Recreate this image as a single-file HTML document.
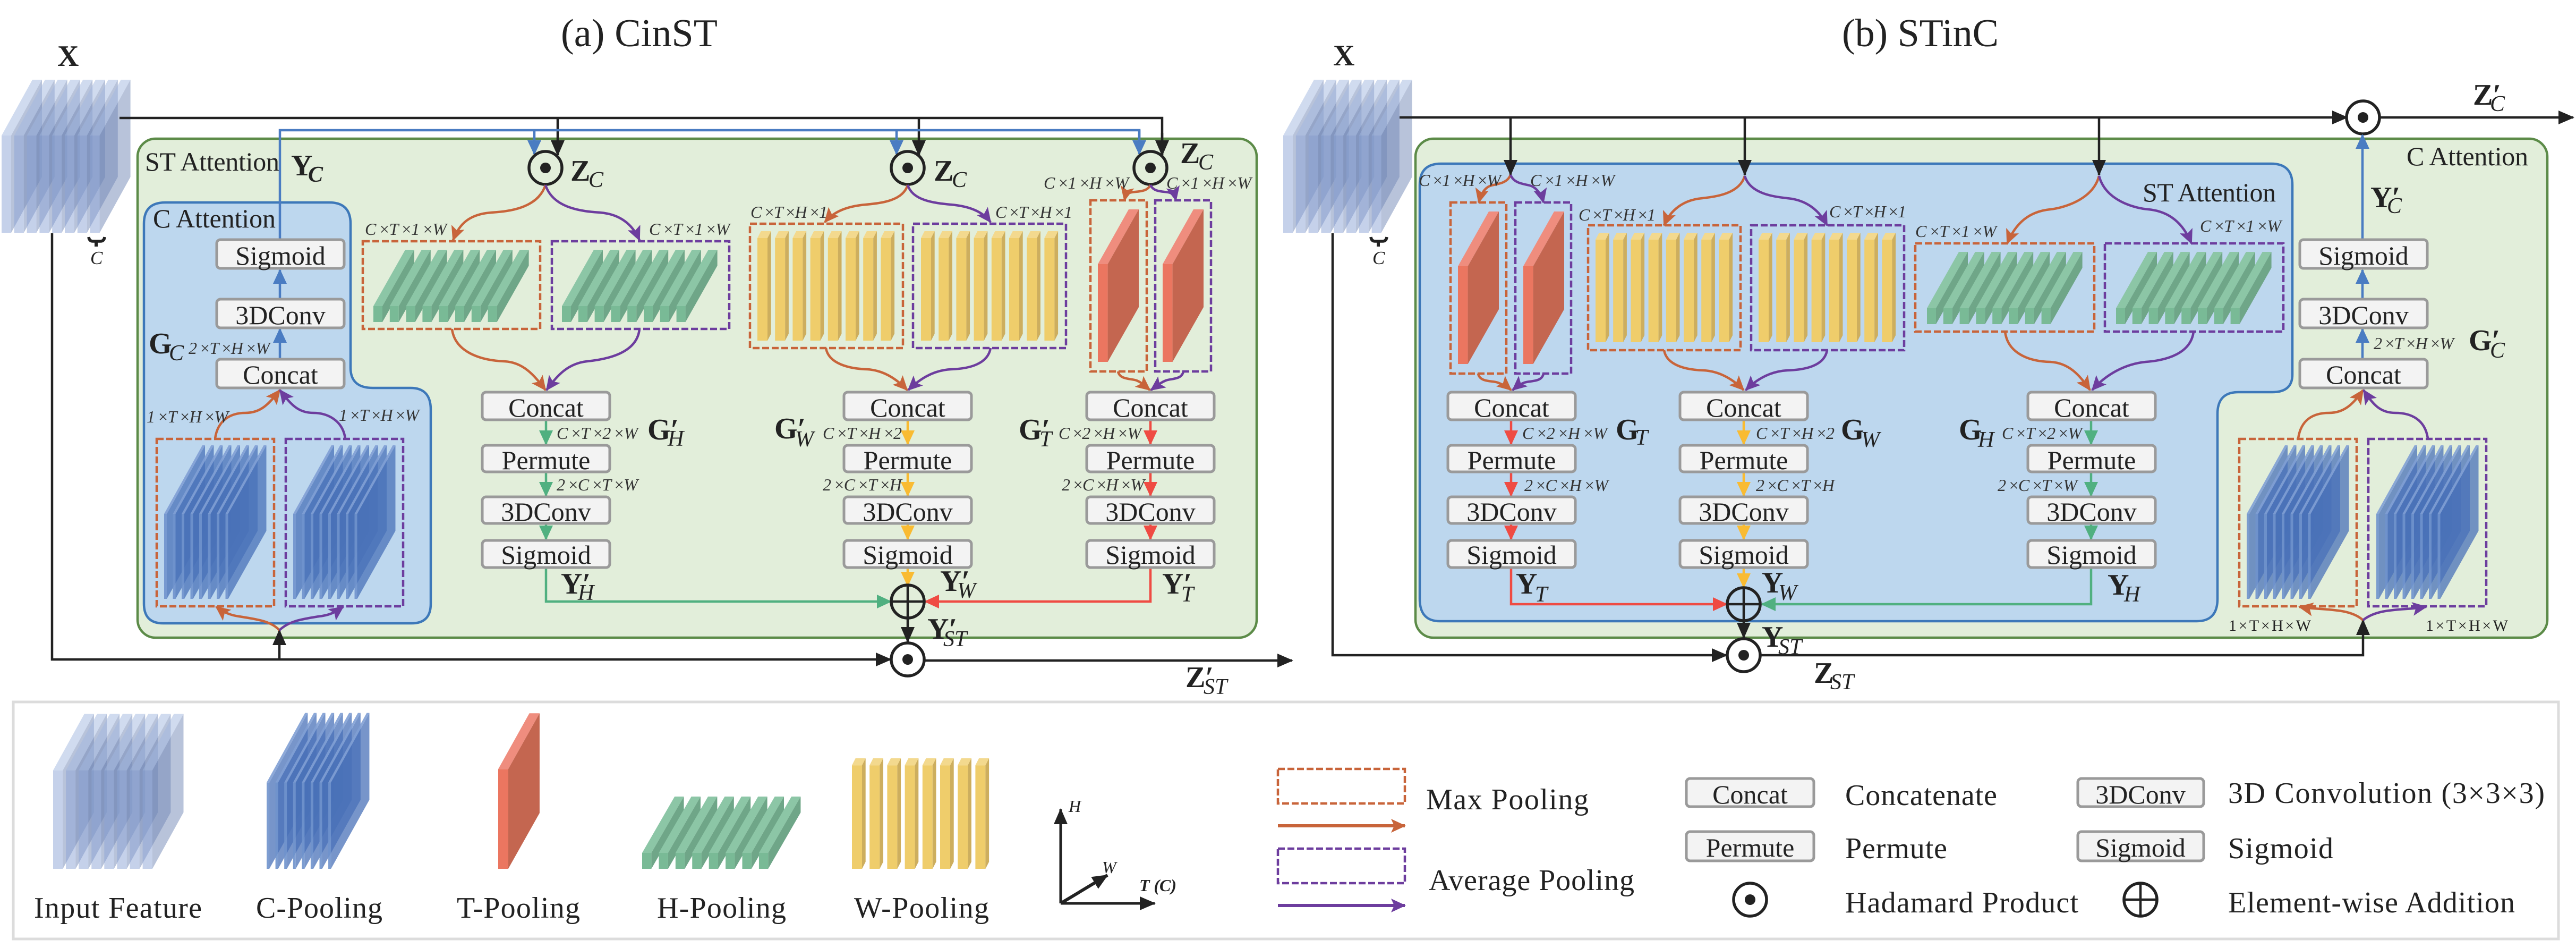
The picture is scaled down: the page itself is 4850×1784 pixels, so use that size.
<!DOCTYPE html>
<html lang="en">
<head>
<meta charset="utf-8">
<title>CinST and STinC attention diagrams</title>
<style>
html,body{margin:0;padding:0;background:#fff;width:4850px;height:1784px;overflow:hidden}
svg{display:block}
text{font-family:"Liberation Serif",serif;fill:#222}
.title{font-size:74px}
.b{font-size:56px;font-weight:700}
.s{font-size:42px;font-style:italic}
.sb{font-size:42px;font-style:italic;font-weight:700}
.dim{font-size:32px;font-style:italic;fill:#333}
.dimu{font-size:30px;fill:#222}
.att{font-size:50px}
.leg{font-size:56px}
.bx{fill:#f3f3f3;stroke:#9a9a9a;stroke-width:5}
.bt{font-size:50px;text-anchor:middle}
.line{fill:none;stroke-width:4.5}
.dash{fill:none;stroke-width:4.5;stroke-dasharray:13 5}
.or{stroke:#c8643a}.pu{stroke:#6d3d9e}.bl{stroke:#4a7cc2}.gr{stroke:#50b080}.ye{stroke:#f9bb32}.re{stroke:#ef4b43}.bk{stroke:#222}
.ci{stroke:#222;stroke-width:5.5}
</style>
</head>
<body>
<svg xmlns="http://www.w3.org/2000/svg" width="4850" height="1784" viewBox="0 0 4850 1784">
<defs>
<marker id="mo" markerUnits="userSpaceOnUse" markerWidth="30" markerHeight="30" refX="26" refY="14" orient="auto"><path d="M0 1L28 14L0 27L6 14Z" fill="#c8643a"/></marker>
<marker id="mp" markerUnits="userSpaceOnUse" markerWidth="30" markerHeight="30" refX="26" refY="14" orient="auto"><path d="M0 1L28 14L0 27L6 14Z" fill="#6d3d9e"/></marker>
<marker id="mb" markerUnits="userSpaceOnUse" markerWidth="30" markerHeight="30" refX="26" refY="14" orient="auto"><path d="M0 1L28 14L0 27Z" fill="#4a7cc2"/></marker>
<marker id="mg" markerUnits="userSpaceOnUse" markerWidth="30" markerHeight="30" refX="26" refY="14" orient="auto"><path d="M0 1L28 14L0 27Z" fill="#50b080"/></marker>
<marker id="my" markerUnits="userSpaceOnUse" markerWidth="30" markerHeight="30" refX="26" refY="14" orient="auto"><path d="M0 1L28 14L0 27Z" fill="#f9bb32"/></marker>
<marker id="mr" markerUnits="userSpaceOnUse" markerWidth="30" markerHeight="30" refX="26" refY="14" orient="auto"><path d="M0 1L28 14L0 27Z" fill="#ef4b43"/></marker>
<marker id="mk" markerUnits="userSpaceOnUse" markerWidth="32" markerHeight="30" refX="28" refY="14" orient="auto"><path d="M0 1L30 14L0 27Z" fill="#222"/></marker>

<g id="xslab">
<polygon points="0,0 18,0 18,-183 0,-183" fill="#8ba3d5" fill-opacity=".5"/>
<polygon points="0,-183 18,-183 76,-288 58,-288" fill="#a1b7df" fill-opacity=".5"/>
<polygon points="18,0 76,-105 76,-288 18,-183" fill="#7187b5" fill-opacity=".5"/>
</g>
<g id="xstack">
<use href="#xslab" x="0"/><use href="#xslab" x="23.8"/><use href="#xslab" x="47.6"/><use href="#xslab" x="71.4"/><use href="#xslab" x="95.2"/><use href="#xslab" x="119"/><use href="#xslab" x="142.8"/><use href="#xslab" x="166.6"/>
</g>

<g id="cslab">
<polygon points="5,0 77,-128 77,-289 5,-160" fill="#4a72b8" fill-opacity=".75"/>
<polygon points="0,0 5,0 5,-160 0,-160" fill="#6f92cc" fill-opacity=".9"/>
<polygon points="0,-160 5,-160 77,-289 72,-289" fill="#7f9fd4" fill-opacity=".9"/>
</g>
<g id="cstack">
<use href="#cslab" x="0"/><use href="#cslab" x="16.5"/><use href="#cslab" x="33"/><use href="#cslab" x="49.5"/><use href="#cslab" x="66"/><use href="#cslab" x="82.5"/><use href="#cslab" x="99"/><use href="#cslab" x="115.5"/>
</g>

<g id="hbar">
<polygon points="0,0 17,0 17,-30 0,-30" fill="#79ba96"/>
<polygon points="0,-30 17,-30 77,-136 60,-136" fill="#8cc6a6"/>
<polygon points="17,0 77,-106 77,-136 17,-30" fill="#6fa688"/>
</g>
<g id="hstack">
<use href="#hbar" x="0"/><use href="#hbar" x="30.8"/><use href="#hbar" x="61.6"/><use href="#hbar" x="92.4"/><use href="#hbar" x="123.2"/><use href="#hbar" x="154"/><use href="#hbar" x="184.8"/><use href="#hbar" x="215.6"/>
</g>

<g id="wbar">
<polygon points="0,0 19,0 19,-193 0,-193" fill="#efcd6b"/>
<polygon points="0,-193 19,-193 25.7,-206 6.7,-206" fill="#f3d98e"/>
<polygon points="19,0 25.7,-13 25.7,-206 19,-193" fill="#cdae5e"/>
</g>
<g id="wstack">
<use href="#wbar" x="0"/><use href="#wbar" x="33.2"/><use href="#wbar" x="66.4"/><use href="#wbar" x="99.6"/><use href="#wbar" x="132.8"/><use href="#wbar" x="166"/><use href="#wbar" x="199.2"/><use href="#wbar" x="232.4"/>
</g>

<g id="tslab">
<polygon points="0,0 18.6,0 18.6,-184 0,-184" fill="#eb7660"/>
<polygon points="0,-184 18.6,-184 77,-287 58,-287" fill="#ef8d7e"/>
<polygon points="18.6,0 77,-103 77,-287 18.6,-184" fill="#c46650"/>
</g>
</defs>

<rect width="4850" height="1784" fill="#fff"/>

<!-- ===================== PANEL A ===================== -->
<g>
<text class="title" x="1056" y="87" textLength="295">(a) CinST</text>
<rect x="259" y="261" width="2107" height="939" rx="34" fill="#e2eeda" stroke="#5c8b48" stroke-width="4.5"/>
<path d="M271 421Q271 381 311 381L620 381Q660 381 660 421L660 692Q660 730 702 730L773 730Q811 730 811 771L811 1136Q811 1173 775 1173L307 1173Q271 1173 271 1136Z" fill="#bdd7ee" stroke="#3d78b9" stroke-width="4.5"/>
<text class="att" x="273" y="321" textLength="253">ST Attention</text>
<text class="att" x="288" y="428" textLength="231">C Attention</text>

<g>
<use href="#xstack" x="3" y="438"/>
<text class="b" x="108" y="124">X</text>
<path d="M167 446q1 8 8 8h14q7 0 8-8" fill="none" stroke="#222" stroke-width="5.5"/>
<path d="M181 454V464" stroke="#222" stroke-width="6"/>
<text x="170" y="497" style="font-size:35px;font-style:italic">C</text>
</g>

<g>
<path class="line bk" d="M225 222H2188V292"/>
<path class="line bk" d="M1050 222V292" marker-end="url(#mk)"/>
<path class="line bk" d="M1730 222V292" marker-end="url(#mk)"/>
<path class="line bk" d="M2188 250V292" marker-end="url(#mk)"/>
<path class="line bk" d="M98 439V1241H1677" marker-end="url(#mk)"/>
<path class="line bk" d="M526 1241V1186" marker-end="url(#mk)"/>
<path class="line bk" d="M1709 1164V1208" marker-end="url(#mk)"/>
<path class="line bk" d="M1741 1243H2433" marker-end="url(#mk)"/>
</g>
<g>
<path class="line bl" d="M527 449V245H2145V260"/>
<path class="line bl" d="M1006 245V290" marker-end="url(#mb)"/>
<path class="line bl" d="M1688 245V290" marker-end="url(#mb)"/>
<path class="line bl" d="M2145 245V290" marker-end="url(#mb)"/>
<path class="line bl" d="M527 561V508" marker-end="url(#mb)"/>
<path class="line bl" d="M527 674V619" marker-end="url(#mb)"/>
</g>

<g>
<circle class="ci" cx="1027" cy="316" r="31" fill="#e2eeda"/><circle cx="1027" cy="316" r="10" fill="#222"/>
<circle class="ci" cx="1709" cy="316" r="31" fill="#e2eeda"/><circle cx="1709" cy="316" r="10" fill="#222"/>
<circle class="ci" cx="2166" cy="316" r="31" fill="#e2eeda"/><circle cx="2166" cy="316" r="10" fill="#222"/>
<circle class="ci" cx="1709" cy="1241" r="31" fill="#fff"/><circle cx="1709" cy="1241" r="10" fill="#222"/>
</g>

<!-- c pooling -->
<g>
<rect class="dash or" x="295" y="826" width="221" height="315"/>
<rect class="dash pu" x="538" y="826" width="221" height="315"/>
<use href="#cstack" x="309" y="1127"/>
<use href="#cstack" x="552" y="1127"/>
<path class="line or" d="M526 1186C510 1168 480 1165 450 1160C435 1158 420 1152 407 1142" marker-end="url(#mo)"/>
<path class="line pu" d="M526 1186C545 1168 570 1165 600 1160C620 1158 632 1152 646 1142" marker-end="url(#mp)"/>
<path class="line or" d="M405 825C410 790 435 777 462 777C490 777 505 762 527 734" marker-end="url(#mo)"/>
<path class="line pu" d="M650 825C645 790 615 777 590 777C562 777 548 762 527 734" marker-end="url(#mp)"/>
</g>

<!-- H branch -->
<g>
<rect class="dash or" x="683" y="454" width="334" height="165"/>
<rect class="dash pu" x="1039" y="454" width="334" height="165"/>
<use href="#hstack" x="703" y="606"/>
<use href="#hstack" x="1058" y="606"/>
<path class="line or" d="M1027 348C1012 395 950 398 925 400C885 403 865 420 853 452" marker-end="url(#mo)"/>
<path class="line pu" d="M1027 348C1042 395 1104 398 1130 400C1165 403 1190 420 1204 452" marker-end="url(#mp)"/>
<path class="line or" d="M851 619C856 660 900 678 950 680C985 682 1005 705 1027 734" marker-end="url(#mo)"/>
<path class="line pu" d="M1204 619C1200 660 1155 675 1105 680C1070 684 1050 705 1029 734" marker-end="url(#mp)"/>
<path class="line gr" d="M1028 792V836" marker-end="url(#mg)"/>
<path class="line gr" d="M1028 890V933" marker-end="url(#mg)"/>
<path class="line gr" d="M1028 987V1015" marker-end="url(#mg)"/>
<path class="line gr" d="M1028 1070V1132H1677" marker-end="url(#mg)"/>
</g>

<!-- W branch -->
<g>
<rect class="dash or" x="1412" y="421" width="288" height="234"/>
<rect class="dash pu" x="1719" y="421" width="288" height="234"/>
<use href="#wstack" x="1426" y="641"/>
<use href="#wstack" x="1734" y="641"/>
<path class="line or" d="M1709 348C1700 378 1660 382 1630 385C1595 388 1570 398 1553 418" marker-end="url(#mo)"/>
<path class="line pu" d="M1709 348C1718 378 1760 382 1790 385C1825 388 1850 398 1865 418" marker-end="url(#mp)"/>
<path class="line or" d="M1555 655C1560 685 1600 694 1633 695C1665 697 1690 715 1708 734" marker-end="url(#mo)"/>
<path class="line pu" d="M1865 655C1860 685 1825 694 1790 695C1755 697 1730 715 1710 734" marker-end="url(#mp)"/>
<path class="line ye" d="M1709 792V836" marker-end="url(#my)"/>
<path class="line ye" d="M1709 890V933" marker-end="url(#my)"/>
<path class="line ye" d="M1709 987V1015" marker-end="url(#my)"/>
<path class="line ye" d="M1709 1070V1102" marker-end="url(#my)"/>
</g>

<!-- T branch -->
<g>
<rect class="dash or" x="2053" y="377" width="106" height="322"/>
<rect class="dash pu" x="2175" y="377" width="105" height="322"/>
<use href="#tslab" x="2067" y="681"/>
<use href="#tslab" x="2189" y="681"/>
<path class="line or" d="M2166 348C2160 362 2140 360 2130 362C2122 364 2119 368 2117 377" marker-end="url(#mo)"/>
<path class="line pu" d="M2166 348C2172 362 2190 360 2200 362C2208 364 2212 368 2214 377" marker-end="url(#mp)"/>
<path class="line or" d="M2105 699C2108 715 2130 712 2140 716C2150 720 2155 726 2165 734" marker-end="url(#mo)"/>
<path class="line pu" d="M2228 699C2225 715 2205 712 2195 716C2185 720 2178 726 2167 734" marker-end="url(#mp)"/>
<path class="line re" d="M2166 792V836" marker-end="url(#mr)"/>
<path class="line re" d="M2166 890V933" marker-end="url(#mr)"/>
<path class="line re" d="M2166 987V1015" marker-end="url(#mr)"/>
<path class="line re" d="M2166 1070V1132H1742" marker-end="url(#mr)"/>
</g>

<g>
<circle class="ci" cx="1709" cy="1132" r="31" fill="none"/>
<path d="M1678 1132H1740M1709 1101V1163" stroke="#222" stroke-width="4.5"/>
</g>

<g>
<rect class="bx" x="408" y="451" width="240" height="54" rx="7"/><text class="bt" x="528" y="498">Sigmoid</text>
<rect class="bx" x="408" y="563" width="240" height="54" rx="7"/><text class="bt" x="528" y="610">3DConv</text>
<rect class="bx" x="408" y="676" width="240" height="54" rx="7"/><text class="bt" x="528" y="722">Concat</text>
</g>
<g>
<rect class="bx" x="908" y="738" width="240" height="52" rx="7"/><text class="bt" x="1028" y="784">Concat</text>
<rect class="bx" x="908" y="838" width="240" height="50" rx="7"/><text class="bt" x="1028" y="883">Permute</text>
<rect class="bx" x="908" y="935" width="240" height="50" rx="7"/><text class="bt" x="1028" y="980">3DConv</text>
<rect class="bx" x="908" y="1017" width="240" height="51" rx="7"/><text class="bt" x="1028" y="1061">Sigmoid</text>
</g>
<g>
<rect class="bx" x="1589" y="738" width="240" height="52" rx="7"/><text class="bt" x="1709" y="784">Concat</text>
<rect class="bx" x="1589" y="838" width="240" height="50" rx="7"/><text class="bt" x="1709" y="883">Permute</text>
<rect class="bx" x="1589" y="935" width="240" height="50" rx="7"/><text class="bt" x="1709" y="980">3DConv</text>
<rect class="bx" x="1589" y="1017" width="240" height="51" rx="7"/><text class="bt" x="1709" y="1061">Sigmoid</text>
</g>
<g>
<rect class="bx" x="2046" y="738" width="240" height="52" rx="7"/><text class="bt" x="2166" y="784">Concat</text>
<rect class="bx" x="2046" y="838" width="240" height="50" rx="7"/><text class="bt" x="2166" y="883">Permute</text>
<rect class="bx" x="2046" y="935" width="240" height="50" rx="7"/><text class="bt" x="2166" y="980">3DConv</text>
<rect class="bx" x="2046" y="1017" width="240" height="51" rx="7"/><text class="bt" x="2166" y="1061">Sigmoid</text>
</g>

<g>
<text class="dim" x="355" y="666" textLength="153">2 ×T ×H ×W</text>
<text class="dim" x="276" y="795" textLength="154">1 ×T ×H ×W</text>
<text class="dim" x="638" y="792" textLength="151">1 ×T ×H ×W</text>
<text class="dim" x="687" y="442" textLength="154">C ×T ×1 ×W</text>
<text class="dim" x="1222" y="442" textLength="152">C ×T ×1 ×W</text>
<text class="dim" x="1413" y="410" textLength="145">C ×T ×H ×1</text>
<text class="dim" x="1874" y="410" textLength="145">C ×T ×H ×1</text>
<text class="dim" x="1965" y="355" textLength="160">C ×1 ×H ×W</text>
<text class="dim" x="2196" y="355" textLength="160">C ×1 ×H ×W</text>
<text class="dim" x="1048" y="826" textLength="153">C ×T ×2 ×W</text>
<text class="dim" x="1048" y="923" textLength="153">2 ×C ×T ×W</text>
<text class="dim" x="1549" y="826" textLength="149">C ×T ×H ×2</text>
<text class="dim" x="1549" y="923" textLength="149">2 ×C ×T ×H</text>
<text class="dim" x="1993" y="826" textLength="156">C ×2 ×H ×W</text>
<text class="dim" x="1999" y="923" textLength="156">2 ×C ×H ×W</text>
</g>

<g>
<text class="b" x="548" y="330">Y</text><text class="sb" x="580" y="342">C</text>
<text class="b" x="1074" y="340">Z</text><text class="s" x="1108" y="352">C</text>
<text class="b" x="1758" y="340">Z</text><text class="s" x="1792" y="352">C</text>
<text class="b" x="2222" y="307">Z</text><text class="s" x="2256" y="319">C</text>
<text class="b" x="280" y="665">G</text><text class="s" x="318" y="678">C</text>
<text class="b" x="1219" y="827">G′</text><text class="s" x="1257" y="839">H</text>
<text class="b" x="1458" y="825">G′</text><text class="s" x="1497" y="840">W</text>
<text class="b" x="1918" y="827">G′</text><text class="s" x="1957" y="840">T</text>
<text class="b" x="1056" y="1117">Y′</text><text class="s" x="1088" y="1129">H</text>
<text class="b" x="1770" y="1112">Y′</text><text class="s" x="1802" y="1125">W</text>
<text class="b" x="2188" y="1117">Y′</text><text class="s" x="2224" y="1132">T</text>
<text class="b" x="1746" y="1202">Y′</text><text class="s" x="1776" y="1216">ST</text>
<text class="b" x="2232" y="1293">Z′</text><text class="s" x="2266" y="1306">ST</text>
</g>
</g>

<!-- ===================== PANEL B ===================== -->
<g>
<text class="title" x="3468" y="87" textLength="295">(b) STinC</text>
<rect x="2665" y="261" width="2131" height="939" rx="34" fill="#e2eeda" stroke="#5c8b48" stroke-width="4.5"/>
<path d="M2713 308L4276 308Q4316 308 4316 348L4316 705Q4316 738 4278 738L4214 738Q4175 738 4175 779L4175 1127Q4175 1169 4136 1169L2711 1169Q2673 1169 2673 1127L2673 348Q2673 308 2713 308Z" fill="#bdd7ee" stroke="#3d78b9" stroke-width="4.5"/>
<text class="att" x="4034" y="379" textLength="251">ST Attention</text>
<text class="att" x="4531" y="311" textLength="229">C Attention</text>

<g>
<use href="#xstack" x="2416" y="438"/>
<text class="b" x="2510" y="123">X</text>
<path d="M2581 446q1 8 8 8h14q7 0 8-8" fill="none" stroke="#222" stroke-width="5.5"/>
<path d="M2595 454V464" stroke="#222" stroke-width="6"/>
<text x="2584" y="497" style="font-size:35px;font-style:italic">C</text>
</g>

<g>
<path class="line bk" d="M2635 221H4419" marker-end="url(#mk)"/>
<path class="line bk" d="M2844 221V329" marker-end="url(#mk)"/>
<path class="line bk" d="M3285 221V329" marker-end="url(#mk)"/>
<path class="line bk" d="M3952 221V329" marker-end="url(#mk)"/>
<path class="line bk" d="M4481 221H4845" marker-end="url(#mk)"/>
<path class="line bk" d="M2509 439V1233H3251" marker-end="url(#mk)"/>
<path class="line bk" d="M3283 1169V1200" marker-end="url(#mk)"/>
<path class="line bk" d="M3315 1233H4449V1167" marker-end="url(#mk)"/>
</g>

<g>
<circle class="ci" cx="4449" cy="221" r="31" fill="#fff"/><circle cx="4449" cy="221" r="10" fill="#222"/>
<circle class="ci" cx="3283" cy="1233" r="31" fill="#fff"/><circle cx="3283" cy="1233" r="10" fill="#222"/>
</g>

<g>
<rect class="dash or" x="2731" y="381" width="105" height="322"/>
<rect class="dash pu" x="2853" y="381" width="105" height="322"/>
<use href="#tslab" x="2745" y="685"/>
<use href="#tslab" x="2868" y="685"/>
<path class="line or" d="M2844 329C2838 345 2820 346 2808 349C2796 352 2788 365 2784 381" marker-end="url(#mo)"/>
<path class="line pu" d="M2844 329C2850 345 2868 346 2880 349C2892 352 2902 365 2906 381" marker-end="url(#mp)"/>
<path class="line or" d="M2783 703C2786 720 2810 716 2820 720C2830 724 2838 728 2845 734" marker-end="url(#mo)"/>
<path class="line pu" d="M2906 703C2903 720 2880 716 2870 720C2860 724 2855 728 2848 734" marker-end="url(#mp)"/>
<path class="line re" d="M2845 792V836" marker-end="url(#mr)"/>
<path class="line re" d="M2845 890V933" marker-end="url(#mr)"/>
<path class="line re" d="M2845 987V1015" marker-end="url(#mr)"/>
<path class="line re" d="M2845 1070V1137H3251" marker-end="url(#mr)"/>
</g>

<g>
<rect class="dash or" x="2990" y="424" width="287" height="235"/>
<rect class="dash pu" x="3297" y="424" width="288" height="235"/>
<use href="#wstack" x="3004" y="644"/>
<use href="#wstack" x="3311" y="644"/>
<path class="line or" d="M3285 331C3275 365 3230 370 3205 373C3170 376 3145 395 3133 424" marker-end="url(#mo)"/>
<path class="line pu" d="M3285 331C3295 365 3340 370 3365 373C3400 376 3425 395 3440 424" marker-end="url(#mp)"/>
<path class="line or" d="M3133 659C3138 688 3175 696 3208 697C3240 699 3265 716 3283 734" marker-end="url(#mo)"/>
<path class="line pu" d="M3440 659C3435 688 3400 696 3365 697C3330 699 3305 716 3287 734" marker-end="url(#mp)"/>
<path class="line ye" d="M3283 792V836" marker-end="url(#my)"/>
<path class="line ye" d="M3283 890V933" marker-end="url(#my)"/>
<path class="line ye" d="M3283 987V1015" marker-end="url(#my)"/>
<path class="line ye" d="M3283 1070V1105" marker-end="url(#my)"/>
</g>

<g>
<rect class="dash or" x="3606" y="458" width="337" height="166"/>
<rect class="dash pu" x="3963" y="458" width="336" height="166"/>
<use href="#hstack" x="3628" y="610"/>
<use href="#hstack" x="3984" y="610"/>
<path class="line or" d="M3952 331C3940 378 3880 392 3860 394C3820 398 3795 420 3779 458" marker-end="url(#mo)"/>
<path class="line pu" d="M3952 331C3964 378 4020 392 4045 394C4085 398 4110 420 4126 458" marker-end="url(#mp)"/>
<path class="line or" d="M3775 624C3780 665 3820 680 3860 681C3895 683 3915 705 3935 734" marker-end="url(#mo)"/>
<path class="line pu" d="M4130 624C4125 665 4080 678 4040 681C4000 685 3965 705 3939 734" marker-end="url(#mp)"/>
<path class="line gr" d="M3937 792V836" marker-end="url(#mg)"/>
<path class="line gr" d="M3937 890V933" marker-end="url(#mg)"/>
<path class="line gr" d="M3937 987V1015" marker-end="url(#mg)"/>
<path class="line gr" d="M3937 1070V1137H3317" marker-end="url(#mg)"/>
</g>

<g>
<circle class="ci" cx="3283" cy="1137" r="31" fill="none"/>
<path d="M3252 1137H3314M3283 1106V1168" stroke="#222" stroke-width="4.5"/>
</g>

<g>
<rect class="dash or" x="4216" y="826" width="221" height="315"/>
<rect class="dash pu" x="4459" y="826" width="222" height="315"/>
<use href="#cstack" x="4230" y="1127"/>
<use href="#cstack" x="4474" y="1127"/>
<path class="line or" d="M4449 1167C4430 1150 4400 1148 4370 1146C4355 1145 4340 1144 4329 1142" marker-end="url(#mo)"/>
<path class="line pu" d="M4449 1167C4470 1150 4500 1148 4530 1146C4545 1145 4555 1144 4568 1142" marker-end="url(#mp)"/>
<path class="line or" d="M4327 825C4332 790 4355 777 4385 777C4412 777 4430 762 4449 734" marker-end="url(#mo)"/>
<path class="line pu" d="M4571 825C4566 790 4540 777 4510 777C4482 777 4468 762 4450 734" marker-end="url(#mp)"/>
<path class="line bl" d="M4448 449V254" marker-end="url(#mb)"/>
<path class="line bl" d="M4448 561V508" marker-end="url(#mb)"/>
<path class="line bl" d="M4448 674V619" marker-end="url(#mb)"/>
</g>

<g>
<rect class="bx" x="2726" y="738" width="240" height="52" rx="7"/><text class="bt" x="2846" y="784">Concat</text>
<rect class="bx" x="2726" y="838" width="240" height="50" rx="7"/><text class="bt" x="2846" y="883">Permute</text>
<rect class="bx" x="2726" y="935" width="240" height="50" rx="7"/><text class="bt" x="2846" y="980">3DConv</text>
<rect class="bx" x="2726" y="1017" width="240" height="51" rx="7"/><text class="bt" x="2846" y="1061">Sigmoid</text>
</g>
<g>
<rect class="bx" x="3163" y="738" width="240" height="52" rx="7"/><text class="bt" x="3283" y="784">Concat</text>
<rect class="bx" x="3163" y="838" width="240" height="50" rx="7"/><text class="bt" x="3283" y="883">Permute</text>
<rect class="bx" x="3163" y="935" width="240" height="50" rx="7"/><text class="bt" x="3283" y="980">3DConv</text>
<rect class="bx" x="3163" y="1017" width="240" height="51" rx="7"/><text class="bt" x="3283" y="1061">Sigmoid</text>
</g>
<g>
<rect class="bx" x="3818" y="738" width="240" height="52" rx="7"/><text class="bt" x="3938" y="784">Concat</text>
<rect class="bx" x="3818" y="838" width="240" height="50" rx="7"/><text class="bt" x="3938" y="883">Permute</text>
<rect class="bx" x="3818" y="935" width="240" height="50" rx="7"/><text class="bt" x="3938" y="980">3DConv</text>
<rect class="bx" x="3818" y="1017" width="240" height="51" rx="7"/><text class="bt" x="3938" y="1061">Sigmoid</text>
</g>
<g>
<rect class="bx" x="4330" y="451" width="240" height="54" rx="7"/><text class="bt" x="4450" y="498">Sigmoid</text>
<rect class="bx" x="4330" y="563" width="240" height="54" rx="7"/><text class="bt" x="4450" y="610">3DConv</text>
<rect class="bx" x="4330" y="676" width="240" height="54" rx="7"/><text class="bt" x="4450" y="722">Concat</text>
</g>

<g>
<text class="dim" x="2671" y="350" textLength="155">C ×1 ×H ×W</text>
<text class="dim" x="2881" y="350" textLength="159">C ×1 ×H ×W</text>
<text class="dim" x="2972" y="415" textLength="145">C ×T ×H ×1</text>
<text class="dim" x="3444" y="409" textLength="145">C ×T ×H ×1</text>
<text class="dim" x="3606" y="446" textLength="153">C ×T ×1 ×W</text>
<text class="dim" x="4142" y="436" textLength="153">C ×T ×1 ×W</text>
<text class="dim" x="2866" y="826" textLength="160">C ×2 ×H ×W</text>
<text class="dim" x="2870" y="924" textLength="158">2 ×C ×H ×W</text>
<text class="dim" x="3306" y="826" textLength="148">C ×T ×H ×2</text>
<text class="dim" x="3306" y="924" textLength="148">2 ×C ×T ×H</text>
<text class="dim" x="3769" y="826" textLength="151">C ×T ×2 ×W</text>
<text class="dim" x="3761" y="924" textLength="150">2 ×C ×T ×W</text>
<text class="dim" x="4469" y="657" textLength="151">2 ×T ×H ×W</text>
<text class="dimu" x="4196" y="1187" textLength="155">1×T×H×W</text>
<text class="dimu" x="4567" y="1187" textLength="155">1×T×H×W</text>
</g>

<g>
<text class="b" x="3042" y="827">G</text><text class="s" x="3079" y="837">T</text>
<text class="b" x="3466" y="827">G</text><text class="s" x="3504" y="841">W</text>
<text class="b" x="3688" y="827">G</text><text class="s" x="3724" y="841">H</text>
<text class="b" x="2854" y="1117">Y</text><text class="s" x="2890" y="1132">T</text>
<text class="b" x="3317" y="1115">Y</text><text class="s" x="3348" y="1129">W</text>
<text class="b" x="3317" y="1217">Y</text><text class="s" x="3348" y="1231">ST</text>
<text class="b" x="3415" y="1285">Z</text><text class="s" x="3446" y="1297">ST</text>
<text class="b" x="3968" y="1119">Y</text><text class="s" x="3999" y="1132">H</text>
<text class="b" x="4463" y="390">Y′</text><text class="s" x="4494" y="401">C</text>
<text class="b" x="4648" y="659">G′</text><text class="s" x="4664" y="673" dx="24">C</text>
<text class="b" x="4656" y="197">Z′</text><text class="s" x="4688" y="209">C</text>
</g>
</g>

<!-- ===================== LEGEND ===================== -->
<g>
<rect x="25" y="1321" width="4792" height="446" fill="#fff" stroke="#dcdcdc" stroke-width="5"/>

<g>
<use href="#xstack" transform="translate(100 1635) scale(1.012)"/>
<text class="leg" x="64" y="1727" textLength="316">Input Feature</text>
</g>
<g>
<use href="#cstack" transform="translate(502 1635) scale(1.005 1.015)"/>
<text class="leg" x="482" y="1727" textLength="238">C-Pooling</text>
</g>
<g>
<use href="#tslab" transform="translate(938 1635) scale(1.012 1.02)"/>
<text class="leg" x="860" y="1727" textLength="232">T-Pooling</text>
</g>
<g>
<use href="#hstack" transform="translate(1209 1635) scale(1.02 1)"/>
<text class="leg" x="1237" y="1727" textLength="243">H-Pooling</text>
</g>
<g>
<use href="#wstack" transform="translate(1604 1635) scale(1 1.01)"/>
<text class="leg" x="1608" y="1727" textLength="254">W-Pooling</text>
</g>

<g>
<path class="bk" fill="none" stroke-width="5" d="M1997 1700V1523" marker-end="url(#mk)"/>
<path class="bk" fill="none" stroke-width="5" d="M1997 1700H2174" marker-end="url(#mk)"/>
<path class="bk" fill="none" stroke-width="6" d="M1997 1700L2085 1647" marker-end="url(#mk)"/>
<text x="2012" y="1528" style="font-size:32px;font-style:italic">H</text>
<text x="2075" y="1643" style="font-size:32px;font-style:italic">W</text>
<text x="2145" y="1677" textLength="70" style="font-size:32px;font-style:italic;font-weight:700">T (C)</text>
</g>

<g>
<rect class="dash or" x="2406" y="1447" width="239" height="65"/>
<path class="or" fill="none" stroke-width="6" d="M2406 1554H2645" marker-end="url(#mo)"/>
<text class="leg" x="2685" y="1523" textLength="306">Max Pooling</text>
</g>
<g>
<rect class="dash pu" x="2406" y="1597" width="239" height="65"/>
<path class="pu" fill="none" stroke-width="6" d="M2406 1704H2645" marker-end="url(#mp)"/>
<text class="leg" x="2690" y="1675" textLength="387">Average Pooling</text>
</g>
<g>
<rect class="bx" x="3175" y="1465" width="240" height="53" rx="7"/><text class="bt" x="3295" y="1512">Concat</text>
<text class="leg" x="3474" y="1515" textLength="286">Concatenate</text>
</g>
<g>
<rect class="bx" x="3175" y="1565" width="240" height="55" rx="7"/><text class="bt" x="3295" y="1612">Permute</text>
<text class="leg" x="3474" y="1615" textLength="192">Permute</text>
</g>
<g>
<circle class="ci" cx="3295" cy="1693" r="31" fill="none"/><circle cx="3295" cy="1693" r="10" fill="#222"/>
<text class="leg" x="3474" y="1717" textLength="439">Hadamard Product</text>
</g>
<g>
<rect class="bx" x="3912" y="1465" width="237" height="53" rx="7"/><text class="bt" x="4030" y="1512">3DConv</text>
<text class="leg" x="4195" y="1511" textLength="596">3D Convolution (3×3×3)</text>
</g>
<g>
<rect class="bx" x="3912" y="1565" width="237" height="55" rx="7"/><text class="bt" x="4030" y="1612">Sigmoid</text>
<text class="leg" x="4195" y="1615" textLength="198">Sigmoid</text>
</g>
<g>
<circle class="ci" cx="4030" cy="1693" r="31" fill="none"/>
<path d="M3999 1693H4061M4030 1662V1724" stroke="#222" stroke-width="4.5"/>
<text class="leg" x="4195" y="1717" textLength="540">Element-wise Addition</text>
</g>
</g>
</svg>
</body>
</html>
